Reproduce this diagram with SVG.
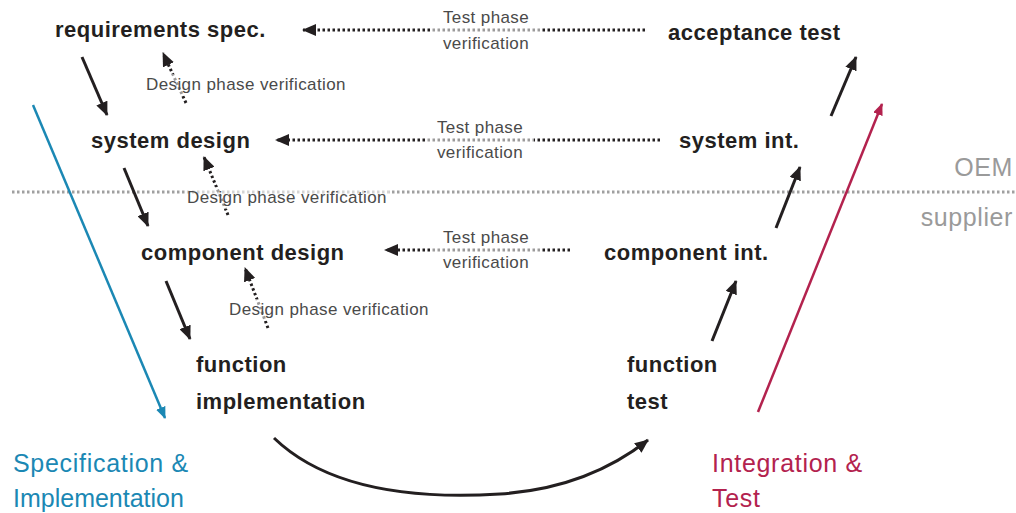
<svg xmlns="http://www.w3.org/2000/svg" width="1016" height="513" viewBox="0 0 1016 513">
  <style>
    .node { font-family: "Liberation Sans", Arial, sans-serif; font-weight: bold; font-size: 22px; letter-spacing: 0.5px; fill: #231f20; }
    .lbl { font-family: "Liberation Sans", Arial, sans-serif; font-size: 17px; letter-spacing: 0.4px; fill: #4a4a4a; }
    .side { font-family: "Liberation Sans", Arial, sans-serif; font-size: 25px; letter-spacing: 0.6px; fill: #9a9a9a; }
    .phase { font-family: "Liberation Sans", Arial, sans-serif; font-size: 25px; letter-spacing: 0.7px; }
    .phase.tight { letter-spacing: 0; }
    .solid { stroke: #231f20; stroke-width: 3; fill: none; }
    .dots { stroke: #231f20; stroke-width: 3; fill: none; stroke-dasharray: 2.5 2.5; }
    .veil { fill: #ffffff; fill-opacity: 0.55; }
  </style>
  <defs>
    <marker id="head" viewBox="0 0 14 12" refX="13" refY="6" markerWidth="14" markerHeight="12" markerUnits="userSpaceOnUse" orient="auto">
      <path d="M0,0 L14,6 L0,12 Z" fill="#231f20"/>
    </marker>
    <marker id="headBlue" viewBox="0 0 12 10" refX="11" refY="5" markerWidth="12" markerHeight="10" markerUnits="userSpaceOnUse" orient="auto">
      <path d="M0,0 L12,5 L0,10 Z" fill="#1b88b4"/>
    </marker>
    <marker id="headRed" viewBox="0 0 12 10" refX="11" refY="5" markerWidth="12" markerHeight="10" markerUnits="userSpaceOnUse" orient="auto">
      <path d="M0,0 L12,5 L0,10 Z" fill="#b3224e"/>
    </marker>
  </defs>

  <!-- OEM / supplier boundary -->
  <g id="boundary">
    <line x1="12" y1="192" x2="1016" y2="192" stroke="#a0a0a0" stroke-width="3" stroke-dasharray="2.5 2.5"/>
    <text class="side" x="1013" y="176" text-anchor="end">OEM</text>
    <text class="side" x="1013" y="226" text-anchor="end">supplier</text>
  </g>

  <!-- phase arrows -->
  <g id="phases">
    <line x1="33" y1="105" x2="165" y2="418" stroke="#1b88b4" stroke-width="2.5" marker-end="url(#headBlue)"/>
    <line x1="758" y1="412" x2="882" y2="104" stroke="#b3224e" stroke-width="2.5" marker-end="url(#headRed)"/>
    <text class="phase" x="13" y="472" fill="#1b88b4">Specification &amp;</text>
    <text class="phase tight" x="13" y="507" fill="#1b88b4">Implementation</text>
    <text class="phase" x="712" y="472" fill="#b3224e">Integration &amp;</text>
    <text class="phase" x="712" y="507" fill="#b3224e">Test</text>
  </g>

  <!-- connectors -->
  <g id="connectors">
    <!-- decomposition (left leg) -->
    <line class="solid" x1="82" y1="57" x2="107" y2="115" marker-end="url(#head)"/>
    <line class="solid" x1="124" y1="168" x2="148" y2="226" marker-end="url(#head)"/>
    <line class="solid" x1="166" y1="281" x2="190" y2="339" marker-end="url(#head)"/>
    <!-- integration (right leg) -->
    <line class="solid" x1="712" y1="341" x2="736" y2="281" marker-end="url(#head)"/>
    <line class="solid" x1="776" y1="228" x2="800" y2="167" marker-end="url(#head)"/>
    <line class="solid" x1="831" y1="116" x2="856" y2="57" marker-end="url(#head)"/>
    <!-- implementation to test -->
    <path class="solid" d="M274,438 C330,492 420,499 500,494 C560,490 610,470 648,440" marker-end="url(#head)"/>

    <!-- test phase verification -->
    <line class="dots" x1="645" y1="30" x2="303" y2="30" marker-end="url(#head)"/>
    <line class="dots" x1="660" y1="140" x2="276" y2="140" marker-end="url(#head)"/>
    <line class="dots" x1="570" y1="250" x2="385" y2="250" marker-end="url(#head)"/>

    <!-- design phase verification -->
    <line class="dots" x1="186" y1="103" x2="163" y2="53" marker-end="url(#head)"/>
    <line class="dots" x1="228" y1="215" x2="204" y2="157" marker-end="url(#head)"/>
    <line class="dots" x1="268" y1="328" x2="245" y2="268" marker-end="url(#head)"/>
  </g>

  <!-- connector labels -->
  <g id="labels">
    <rect class="veil" x="432" y="8" width="108" height="46"/>
    <text class="lbl" x="486" y="23" text-anchor="middle">Test phase</text>
    <text class="lbl" x="486" y="49" text-anchor="middle">verification</text>

    <rect class="veil" x="426" y="118" width="108" height="46"/>
    <text class="lbl" x="480" y="133" text-anchor="middle">Test phase</text>
    <text class="lbl" x="480" y="158" text-anchor="middle">verification</text>

    <rect class="veil" x="432" y="228" width="108" height="46"/>
    <text class="lbl" x="486" y="243" text-anchor="middle">Test phase</text>
    <text class="lbl" x="486" y="268" text-anchor="middle">verification</text>

    <rect class="veil" x="144" y="74" width="204" height="22"/>
    <text class="lbl" x="146" y="90">Design phase verification</text>

    <rect class="veil" x="185" y="187" width="204" height="22"/>
    <text class="lbl" x="187" y="203">Design phase verification</text>

    <rect class="veil" x="227" y="299" width="204" height="22"/>
    <text class="lbl" x="229" y="315">Design phase verification</text>
  </g>

  <!-- nodes -->
  <g id="requirements-spec"><text class="node" x="55" y="37">requirements spec.</text></g>
  <g id="system-design"><text class="node" x="91" y="148">system design</text></g>
  <g id="component-design"><text class="node" x="141" y="260">component design</text></g>
  <g id="function-implementation">
    <text class="node" x="196" y="372">function</text>
    <text class="node" x="196" y="409">implementation</text>
  </g>
  <g id="function-test">
    <text class="node" x="627" y="372">function</text>
    <text class="node" x="627" y="409">test</text>
  </g>
  <g id="component-int"><text class="node" x="604" y="260">component int.</text></g>
  <g id="system-int"><text class="node" x="679" y="148">system int.</text></g>
  <g id="acceptance-test"><text class="node" x="668" y="40">acceptance test</text></g>
</svg>
